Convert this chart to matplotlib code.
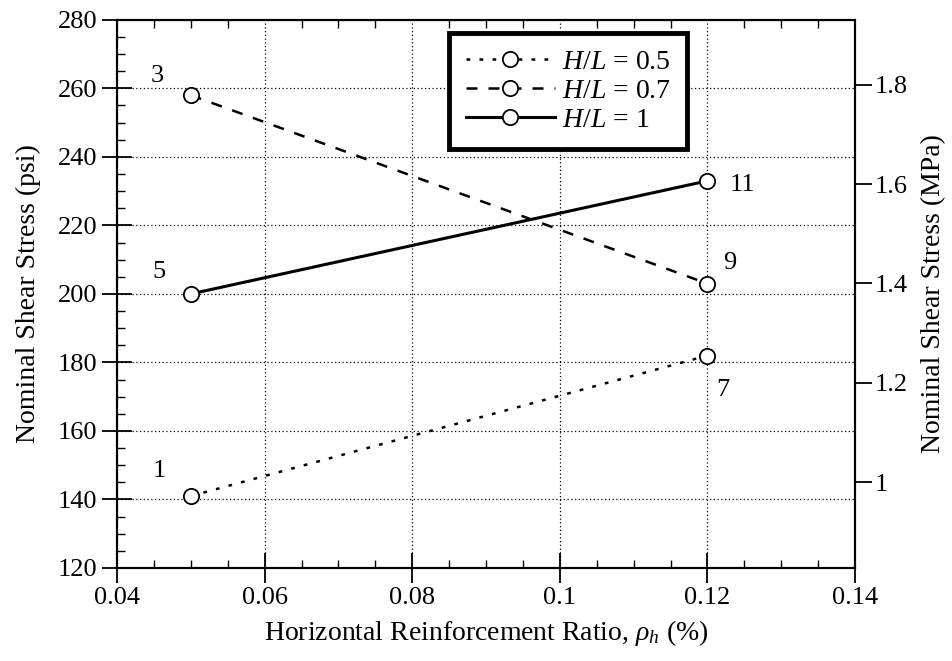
import matplotlib
matplotlib.use('Agg')
import matplotlib.pyplot as plt
from matplotlib.ticker import MultipleLocator

plt.rcParams['font.family'] = ['Liberation Serif', 'DejaVu Serif']
plt.rcParams['mathtext.fontset'] = 'custom'
plt.rcParams['mathtext.rm'] = 'Liberation Serif'
plt.rcParams['mathtext.it'] = 'Liberation Serif:italic'

# data
ratio = [0.05, 0.12]
stress_05 = [141, 182]
stress_07 = [258, 203]
stress_10 = [200, 233]
labels_05 = ['1', '7']
labels_07 = ['3', '9']
labels_10 = ['5', '11']
series_names = ['$H/L$ = 0.5', '$H/L$ = 0.7', '$H/L$ = 1']
psi_per_mpa = 145.04

fig = plt.figure(figsize=(9.53, 6.61), dpi=100)
ax = fig.add_axes([0.1228, 0.1407, 0.7744, 0.8293])

mk = dict(marker='o', markersize=11, markerfacecolor='white', markeredgecolor='k',
          markeredgewidth=1.3, color='k', zorder=3)
ax.plot(ratio, stress_05, linestyle=(0, (1.5, 3.7)), linewidth=1.8, label=series_names[0], **mk)
ax.plot(ratio, stress_07, linestyle=(0, (4.4, 4.4)), linewidth=1.8, label=series_names[1], **mk)
ax.plot(ratio, stress_10, linestyle='-', linewidth=2.2, label=series_names[2], **mk)

# point numbers
offsets_05 = [(-23, 18), (11, -25)]
offsets_07 = [(-24, 14), (16, 15)]
offsets_10 = [(-23, 16), (25, -3)]
for ys, labs, offs in [(stress_05, labels_05, offsets_05),
                       (stress_07, labels_07, offsets_07),
                       (stress_10, labels_10, offsets_10)]:
    for x, y, t, o in zip(ratio, ys, labs, offs):
        ax.annotate(t, (x, y), xytext=o, textcoords='offset points',
                    ha='center', va='center', fontsize=19)

ax.set_xlim(0.04, 0.14)
ax.set_ylim(120, 280)
ax.xaxis.set_minor_locator(MultipleLocator(0.005))
ax.yaxis.set_major_locator(MultipleLocator(20))
ax.yaxis.set_minor_locator(MultipleLocator(5))
ax.set_xticks([0.04, 0.06, 0.08, 0.1, 0.12, 0.14])
ax.set_xticklabels(['0.04', '0.06', '0.08', '0.1', '0.12', '0.14'])
ax.grid(True, which='major', linestyle=(0, (1, 2)), color='k', linewidth=0.9)
ax.tick_params(which='major', direction='inout', length=22, width=1.3, labelsize=19,
               top=False, right=False, pad=3)
ax.tick_params(which='minor', direction='in', length=6, width=1, top=True, right=True)
for s in ax.spines.values():
    s.set_linewidth(1.5)

ax.set_xlabel(r'Horizontal Reinforcement Ratio, $\rho_h$ (%)', fontsize=20, labelpad=6)
ax.set_ylabel('Nominal Shear Stress (psi)', fontsize=20, labelpad=12)

ax2 = ax.twinx()
ax2.set_ylim(120 / psi_per_mpa, 280 / psi_per_mpa)
ax2.set_yticks([1, 1.2, 1.4, 1.6, 1.8])
ax2.set_yticklabels(['1', '1.2', '1.4', '1.6', '1.8'])
ax2.tick_params(direction='out', length=12, width=1.3, labelsize=19, pad=2)
ax2.set_ylabel('Nominal Shear Stress (MPa)', fontsize=20, labelpad=10)
for s in ax2.spines.values():
    s.set_linewidth(1.5)

leg = ax.legend(loc='upper left', bbox_to_anchor=(0.45, 0.976), handlelength=3.2,
                handletextpad=0.25, fontsize=20, fancybox=False, framealpha=1,
                borderpad=0.6, labelspacing=0.12, borderaxespad=0)
leg.get_frame().set_edgecolor('k')
leg.get_frame().set_linewidth(3.5)
leg.set_zorder(5)

fig.savefig('out.png', dpi=100)
